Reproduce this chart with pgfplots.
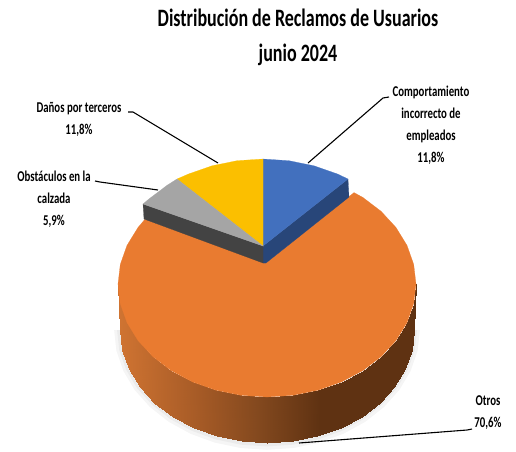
\documentclass[border=0pt]{standalone}
\usepackage{pgfplots}
\pgfplotsset{compat=1.18}
\usepackage{pgfplotstable}
\usepackage{fontspec}
\setmainfont{Carlito}[FakeStretch=0.72]
\definecolor{cOrange}{HTML}{E97B30}
\definecolor{cBlue}{HTML}{4270BE}
\definecolor{cBlueS}{HTML}{284679}
\definecolor{cGray}{HTML}{A5A5A5}
\definecolor{cGrayS}{HTML}{434343}
\definecolor{cYellow}{HTML}{FBBF00}
\definecolor{cRim}{HTML}{F39350}
\pgfplotstableread{
x y
414 330
411.8 349.6
405.1 368.6
394.3 386.5
379.6 402.6
361.5 416.6
340.5 427.9
317.3 436.2
292.5 441.3
267 443
241.5 441.3
216.7 436.2
193.5 427.9
172.5 416.6
154.4 402.6
139.7 386.5
128.9 368.6
122.2 349.6
120 330
}\bottomarc
\pgfplotstableread{
x y
416 284
413.7 303.6
407.0 322.6
396.0 340.5
381.1 356.6
362.8 370.6
341.5 381.9
318.0 390.2
292.9 395.3
267 397
241.1 395.3
216.0 390.2
192.5 381.9
171.2 370.6
152.9 356.6
138.0 340.5
127.0 322.6
120.3 303.6
118 284
}\rimarc
\begin{document}
\begin{tikzpicture}
\useasboundingbox (0,0) rectangle (516pt,451pt);
\begin{axis}[
  at={(0,0)}, anchor=south west,
  scale only axis, width=516pt, height=451pt,
  xmin=0, xmax=516, ymin=0, ymax=451, y dir=reverse,
  hide axis, clip=false,
  colormap={side}{rgb255(0pt)=(208,116,50); rgb255(82pt)=(165,90,38); rgb255(142pt)=(130,72,30); rgb255(202pt)=(95,50,18); rgb255(298pt)=(95,50,18)},
  point meta min=118, point meta max=416,
  every node/.style={text=black, inner sep=0pt},
]
% soft shadow
\addplot[fill=black!4, draw=none] table[x expr=267+(\thisrow{x}-267)*1.04, y expr=330+(\thisrow{y}-330)*1.06] {\bottomarc} -- cycle;
\addplot[fill=black!8, draw=none] table[x expr=267+(\thisrow{x}-267)*1.02, y expr=330+(\thisrow{y}-330)*1.03] {\bottomarc} -- cycle;
% side wall of the large slice
\addplot[surf, shader=interp, mesh/cols=19, mesh/ordering=x varies, point meta=\thisrow{x}] table {
x y
118 284
120.3 303.6
127.0 322.6
138.0 340.5
152.9 356.6
171.2 370.6
192.5 381.9
216.0 390.2
241.1 395.3
267 397
292.9 395.3
318.0 390.2
341.5 381.9
362.8 370.6
381.1 356.6
396.0 340.5
407.0 322.6
413.7 303.6
416 284
120 330
122.2 349.6
128.9 368.6
139.7 386.5
154.4 402.6
172.5 416.6
193.5 427.9
216.7 436.2
241.5 441.3
267 443
292.5 441.3
317.3 436.2
340.5 427.9
361.5 416.6
379.6 402.6
394.3 386.5
405.1 368.6
411.8 349.6
414 330
};
% top of the large slice
\addplot[fill=cOrange, draw=cOrange, line width=0.2pt] coordinates {
(266,263)(354,192.6)(362.8,197.4)(381.1,211.3)(396.0,227.5)(407.0,245.4)(413.7,264.4)(416,284)
(413.7,303.6)(407.0,322.6)(396.0,340.5)(381.1,356.6)(362.8,370.6)(341.5,381.9)(318.0,390.2)(292.9,395.3)(267,397)
(241.1,395.3)(216.0,390.2)(192.5,381.9)(171.2,370.6)(152.9,356.6)(138.0,340.5)(127.0,322.6)(120.3,303.6)(118,284)
(120.3,264.4)(127.0,245.4)(138,227.5)(145,219.2)} -- cycle;
% small slices: sides
\addplot[fill=cBlueS, draw=cBlueS, line width=0.2pt] coordinates {(263,246)(348,179)(349,197)(266,263)(263,263)} -- cycle;
\addplot[fill=cGrayS, draw=cGrayS, line width=0.2pt] coordinates {(263,246)(143,204)(144,219)(263,263)} -- cycle;
% small slices: tops
\addplot[fill=cBlue, draw=cBlue, line width=0.2pt] coordinates {(263,246)(263,159)(288.9,160.7)(314,165.8)(337.5,174)(348,179)} -- cycle;
\addplot[fill=cYellow, draw=cYellow, line width=0.2pt] coordinates {(263,246)(263,159)(237.1,160.7)(212,165.8)(188.5,174)(177,179)} -- cycle;
\addplot[fill=cGray, draw=cGray, line width=0.2pt] coordinates {(263,246)(177,179)(167.2,185.2)(148.9,199)(143,204)} -- cycle;
% leader lines
\addplot[black, line width=1.1pt] coordinates {(308,163)(383,98)(389,97)};
\addplot[black, line width=1.1pt] coordinates {(218,163)(133,112)(128,112)};
\addplot[black, line width=1.1pt] coordinates {(158,190)(100,182)(95,181)};
\addplot[black, line width=1.1pt] coordinates {(299,443)(467,430)(472,429)};
% title
\node[align=center, font=\fontsize{25}{35}\selectfont\bfseries] at (axis cs:298,37) {Distribución de Reclamos de Usuarios\\junio 2024};
% labels
\node[align=center, font=\fontsize{15}{22}\selectfont\bfseries] at (axis cs:431,125) {Comportamiento\\incorrecto de\\empleados\\11,8\%};
\node[align=center, font=\fontsize{15}{22}\selectfont\bfseries] at (axis cs:79,119) {Daños por terceros\\11,8\%};
\node[align=center, font=\fontsize{15}{22}\selectfont\bfseries] at (axis cs:54,199) {Obstáculos en la\\calzada\\5,9\%};
\node[align=center, font=\fontsize{15}{22}\selectfont\bfseries] at (axis cs:488,413) {Otros\\70,6\%};
\end{axis}
\end{tikzpicture}
\end{document}
